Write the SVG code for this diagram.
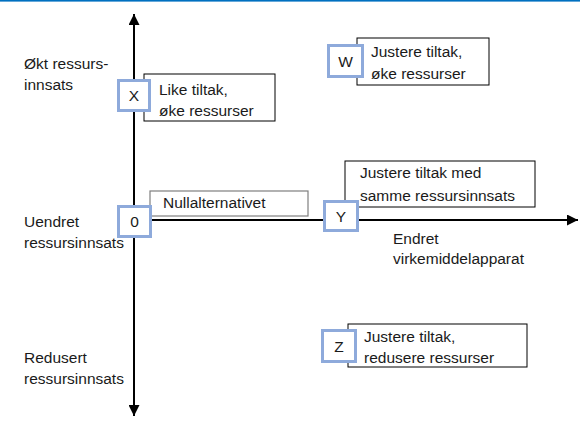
<svg xmlns="http://www.w3.org/2000/svg" width="580" height="423" viewBox="0 0 580 423">
<style>
text{font-family:"Liberation Sans",Arial,sans-serif;font-size:15.5px;fill:#1a1a1a}
.sq{fill:#fff;stroke:#8eaadb;stroke-width:3}
.lb{fill:#fff;stroke:#000;stroke-width:1}
.lbg{fill:#fff;stroke:#7f7f7f;stroke-width:1.2}
.ax{stroke:#000;stroke-width:2;fill:none}
.c{text-anchor:middle}
</style>
<defs>
<marker id="ah" viewBox="0 0 10 10" refX="10" refY="5" markerWidth="5.5" markerHeight="5.5" orient="auto" markerUnits="strokeWidth"><path d="M0,0L10,5L0,10Z" fill="#000"/></marker>
</defs>
<rect x="0" y="0" width="580" height="1.6" fill="#0070c0"/>
<g id="connectors">
<line class="ax" x1="134" y1="215" x2="134" y2="14" marker-end="url(#ah)"/>
<line class="ax" x1="134" y1="215" x2="134" y2="416" marker-end="url(#ah)"/>
<line class="ax" x1="150" y1="220" x2="578" y2="220" marker-end="url(#ah)"/>
</g>
<g id="axis-labels">
<text x="24" y="69">Økt ressurs-</text>
<text x="24" y="90">innsats</text>
<text x="24" y="227">Uendret</text>
<text x="24" y="248">ressursinnsats</text>
<text x="24" y="363">Redusert</text>
<text x="24" y="384">ressursinnsats</text>
<text x="393" y="244">Endret</text>
<text x="393" y="264">virkemiddelapparat</text>
</g>
<g id="node-X">
<rect class="lb" x="144" y="74" width="131" height="47"/>
<text x="159" y="95">Like tiltak,</text>
<text x="159" y="116">øke ressurser</text>
<rect class="sq" x="118.5" y="80.5" width="31" height="30"/>
<text class="c" x="134" y="101">X</text>
</g>
<g id="node-W">
<rect class="lb" x="357" y="38" width="132" height="47"/>
<text x="371" y="57">Justere tiltak,</text>
<text x="371" y="79">øke ressurser</text>
<rect class="sq" x="328.5" y="45.5" width="34" height="31"/>
<text class="c" x="345.5" y="67">W</text>
</g>
<g id="node-0">
<rect class="lbg" x="150" y="191" width="158" height="25"/>
<text x="163" y="208">Nullalternativet</text>
<rect class="sq" x="118.5" y="206.5" width="32" height="30"/>
<text class="c" x="134.5" y="227">0</text>
</g>
<g id="node-Y">
<rect class="lb" x="345" y="161" width="190" height="46"/>
<text x="360" y="178">Justere tiltak med</text>
<text x="360" y="201">samme ressursinnsats</text>
<rect class="sq" x="324.5" y="201.5" width="33" height="29"/>
<text class="c" x="341" y="222">Y</text>
</g>
<g id="node-Z">
<rect class="lb" x="348" y="324" width="179" height="43"/>
<text x="364" y="342">Justere tiltak,</text>
<text x="364" y="363">redusere ressurser</text>
<rect class="sq" x="322.5" y="330.5" width="33" height="31"/>
<text class="c" x="339" y="352">Z</text>
</g>
</svg>
